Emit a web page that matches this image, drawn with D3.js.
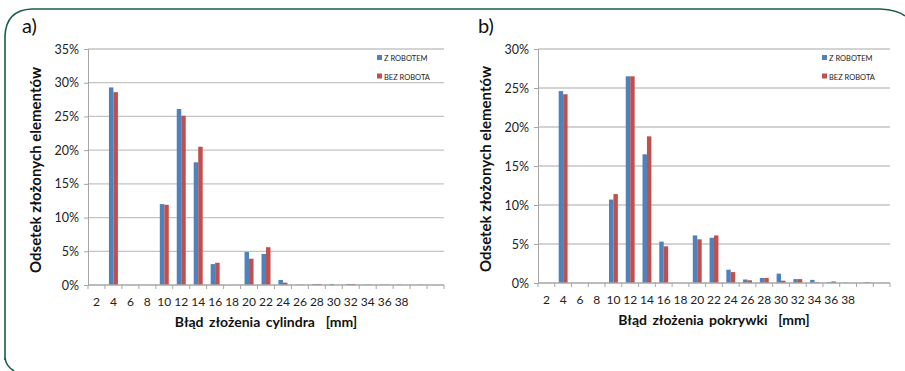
<!DOCTYPE html>
<html>
<head>
<meta charset="utf-8">
<script src="https://cdn.jsdelivr.net/npm/d3@7"></script>
<style>
  body { margin: 0; background: #fff; }
  svg { display: block; font-family: Lato, "Open Sans", sans-serif; }
</style>
</head>
<body>
<svg id="chart" width="905" height="371"></svg>
<script>
// kategorie (blad w mm) - ostatnie dwie bez etykiety
var categories = [2, 4, 6, 8, 10, 12, 14, 16, 18, 20, 22, 24, 26, 28, 30, 32, 34, 36, 38, 40, 42]
var tickLabels = ['2','4','6','8','10','12','14','16','18','20','22','24','26','28','30','32','34','36','38','','']
var seriesNames = ['Z ROBOTEM', 'BEZ ROBOTA']

// a) cylinder (w %)
var cylZRobotem = [0, 29.3, 0, 0, 12.0, 26.1, 18.2, 3.1, 0, 4.9, 4.6, 0.75, 0.05, 0.15, 0.15, 0.15, 0.05, 0.05, 0.05, 0, 0]
var cylBezRobota = [0, 28.6, 0, 0, 11.9, 25.1, 20.5, 3.3, 0, 3.9, 5.6, 0.35, 0.05, 0.15, 0, 0.15, 0.05, 0.05, 0, 0.05, 0]
var cylTicks = [0, 5, 10, 15, 20, 25, 30, 35]

// b) pokrywka (w %)
var pokZRobotem = [0, 24.6, 0, 0, 10.7, 26.5, 16.5, 5.3, 0, 6.1, 5.8, 1.7, 0.45, 0.65, 1.2, 0.5, 0.4, 0.1, 0.05, 0, 0]
var pokBezRobota = [0, 24.2, 0, 0, 11.4, 26.5, 18.8, 4.7, 0, 5.6, 6.1, 1.4, 0.35, 0.65, 0.3, 0.5, 0.1, 0.2, 0, 0.1, 0]
var pokTicks = [0, 5, 10, 15, 20, 25, 30]

var colors = ['#4F81BD', '#C0504D']

var svg = d3.select('#chart')

// ramka
var frame = d3.path()
frame.moveTo(5, 360)
frame.lineTo(5, 36)
frame.quadraticCurveTo(6, 10, 32, 9)
frame.lineTo(880, 9)
frame.quadraticCurveTo(898, 10, 905, 16)
svg.append('path').attr('d', frame.toString())
    .attr('fill', 'none').attr('stroke', '#1d5c47').attr('stroke-width', 1.6)
var frameBottom = d3.path()
frameBottom.moveTo(5, 358)
frameBottom.quadraticCurveTo(6, 366, 14, 371)
svg.append('path').attr('d', frameBottom.toString())
    .attr('fill', 'none').attr('stroke', '#1d5c47').attr('stroke-width', 1.6)

function drawPanel(opts) {
    var g = svg.append('g')

    var x = d3.scaleBand()
        .domain(categories)
        .range([opts.left, opts.right])
        .paddingInner(0.47).paddingOuter(0.235)

    var xOuter = d3.scaleBand().domain(categories).range([opts.left, opts.right])

    var y = d3.scaleLinear()
        .domain([0, opts.ticks[opts.ticks.length - 1]])
        .range([opts.bottom, opts.top])

    // siatka
    g.selectAll('line.grid')
        .data(opts.ticks.slice(1))
        .enter().append('line')
        .attr('x1', opts.left).attr('x2', opts.right)
        .attr('y1', d => y(d)).attr('y2', d => y(d))
        .attr('stroke', '#c4c4c4').attr('stroke-width', 1.3)

    // os y
    var yAxis = d3.axisLeft(y).tickValues(opts.ticks).tickSize(4).tickPadding(5)
        .tickFormat(d => d + '%')
    var ya = g.append('g').attr('transform', 'translate(' + opts.left + ',0)').call(yAxis)
    ya.select('.domain').attr('stroke', '#a6a6a6')
    ya.selectAll('.tick line').attr('stroke', '#a6a6a6')
    ya.selectAll('text').attr('font-size', 12.5).attr('fill', '#222').attr('font-family', 'Lato, "Open Sans", sans-serif')

    // slupki
    var sub = d3.scaleBand().domain([0, 1]).range([0, x.bandwidth()])
    var series = [opts.a, opts.b]
    series.forEach(function(vals, si) {
        g.selectAll('rect.s' + si)
            .data(vals)
            .enter().append('rect')
            .attr('x', (d, i) => x(categories[i]) + sub(si))
            .attr('y', d => y(d))
            .attr('width', sub.bandwidth())
            .attr('height', d => opts.bottom - y(d))
            .attr('fill', colors[si])
    })

    // os x
    g.append('line')
        .attr('x1', opts.left).attr('x2', opts.right)
        .attr('y1', opts.bottom).attr('y2', opts.bottom)
        .attr('stroke', '#a6a6a6').attr('stroke-width', 1.3)
    var bounds = categories.map(c => xOuter(c)).concat([opts.right])
    g.selectAll('line.xt')
        .data(bounds)
        .enter().append('line')
        .attr('x1', d => d).attr('x2', d => d)
        .attr('y1', opts.bottom).attr('y2', opts.bottom + 4)
        .attr('stroke', '#a6a6a6')
    g.selectAll('text.xl')
        .data(categories)
        .enter().append('text')
        .attr('x', d => xOuter(d) + xOuter.bandwidth() / 2)
        .attr('y', opts.bottom + 21)
        .attr('text-anchor', 'middle')
        .attr('font-size', 12).attr('fill', '#222')
        .text((d, i) => tickLabels[i])

    // tytuly osi
    g.append('text')
        .attr('x', (opts.left + opts.right) / 2)
        .attr('y', opts.bottom + 42)
        .attr('text-anchor', 'middle')
        .attr('font-size', 14).attr('font-weight', 'bold').attr('fill', '#111')
        .style('white-space', 'pre').style('word-spacing', '2px')
        .text(opts.xTitle)
    g.append('text')
        .attr('transform', 'translate(' + (opts.left - 47) + ',' + ((opts.top + opts.bottom) / 2 + 3) + ') rotate(-90)')
        .attr('text-anchor', 'middle')
        .attr('font-size', 15).attr('font-weight', 'bold').attr('fill', '#111')
        .text('Odsetek złożonych elementów')

    // etykieta panelu
    g.append('text')
        .attr('x', opts.labelX).attr('y', 33)
        .attr('font-size', 20).attr('fill', '#111')
        .text(opts.label)

    // legenda
    seriesNames.forEach(function(name, i) {
        g.append('rect')
            .attr('x', opts.legendX).attr('y', 55 + i * 18.5)
            .attr('width', 5).attr('height', 5)
            .attr('fill', colors[i])
        g.append('text')
            .attr('x', opts.legendX + 7).attr('y', 61 + i * 18.5)
            .attr('font-size', 7.5).attr('fill', '#222')
            .text(name)
    })
}

drawPanel({
    left: 88, right: 444, top: 49, bottom: 285,
    ticks: cylTicks, a: cylZRobotem, b: cylBezRobota,
    xTitle: 'Błąd złożenia cylindra  [mm]', label: 'a)', labelX: 22, legendX: 377
})

drawPanel({
    left: 538, right: 890, top: 49, bottom: 283,
    ticks: pokTicks, a: pokZRobotem, b: pokBezRobota,
    xTitle: 'Błąd złożenia pokrywki  [mm]', label: 'b)', labelX: 478, legendX: 822
})
</script>
</body>
</html>
